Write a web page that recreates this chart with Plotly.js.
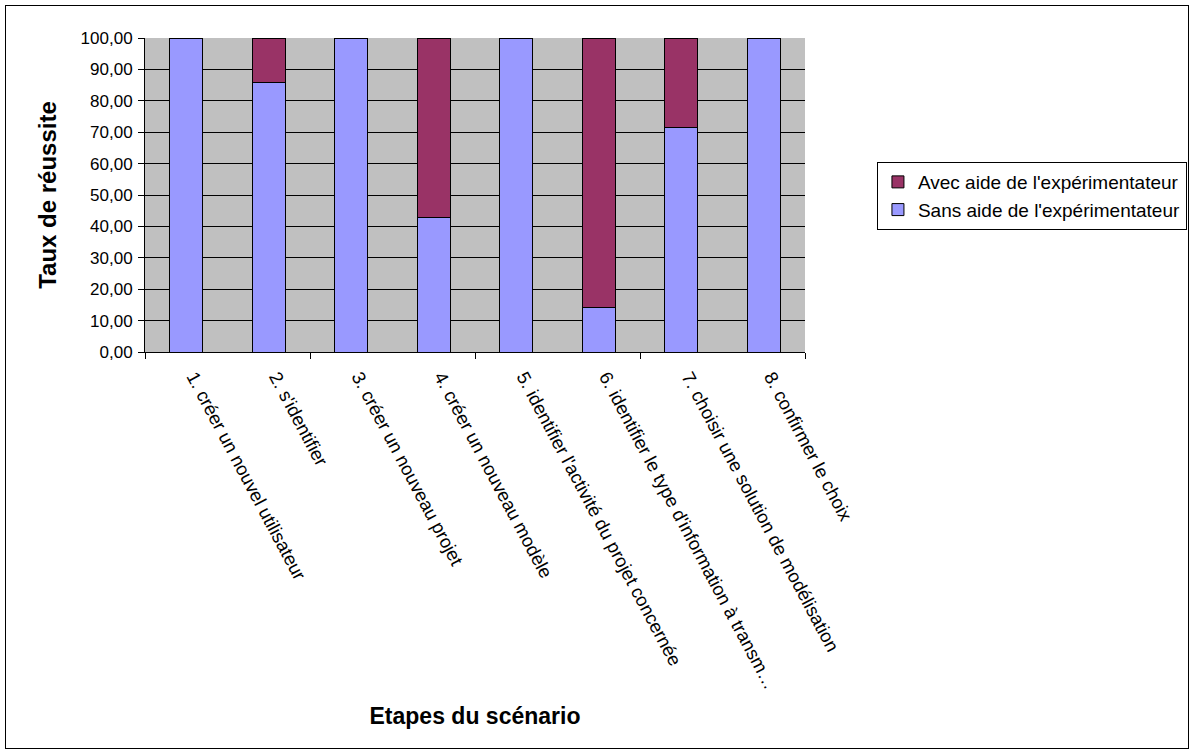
<!DOCTYPE html>
<html>
<head>
<meta charset="utf-8">
<script src="https://cdn.plot.ly/plotly-3.0.1.min.js"></script>
<style>
  html, body { margin: 0; padding: 0; background: #ffffff; }
  #wrap { position: relative; width: 1194px; height: 755px; }
  #chart { width: 1194px; height: 755px; }
  #frame { position: absolute; left: 5px; top: 5px; width: 1182px; height: 742px; border: 1px solid #000; pointer-events: none; }
</style>
</head>
<body>
<div id="wrap">
  <div id="chart"></div>
  <div id="frame"></div>
</div>
<script>
const categories = [
  "1. créer un nouvel utilisateur",
  "2. s'identifier",
  "3. créer un nouveau projet",
  "4. créer un nouveau modèle",
  "5. identifier l'activité du projet concernée",
  "6. identifier le type d'information à transm…",
  "7. choisir une solution de modélisation",
  "8. confirmer le choix"
];
const sansAide = [100, 85.71, 100, 42.86, 100, 14.29, 71.43, 100];
const avecAide = [0, 14.29, 0, 57.14, 0, 85.71, 28.57, 0];
const seriesNames = ["Sans aide de l'expérimentateur", "Avec aide de l'expérimentateur"];
const yTitle = "Taux de réussite";
const xTitle = "Etapes du scénario";

const FONT = "Liberation Sans, Arial, sans-serif";

const traces = [
  {
    type: "bar", name: seriesNames[0], x: categories, y: sansAide,
    marker: { color: "#9999FF", line: { color: "#000000", width: 1 } },
    width: 0.4
  },
  {
    type: "bar", name: seriesNames[1], x: categories, y: avecAide,
    marker: { color: "#993366", line: { color: "#000000", width: 1 } },
    width: 0.4
  },
  // empty helper trace so the tick-mark axis (every second category boundary) is drawn
  { type: "scatter", x: [], y: [], xaxis: "x2", yaxis: "y", showlegend: false, hoverinfo: "skip" }
];

const boundaryTicks = [];
for (let b = -0.5; b <= categories.length - 0.5; b += 2) boundaryTicks.push(b);

const layout = {
  width: 1194, height: 755,
  margin: { l: 145, r: 389, t: 38, b: 403, pad: 0, autoexpand: false },
  paper_bgcolor: "#ffffff",
  plot_bgcolor: "#C0C0C0",
  barmode: "stack",
  separators: ", ",
  font: { family: FONT, color: "#000000", size: 16 },
  showlegend: true,
  legend: {
    x: 1.109, y: 0.605, xanchor: "left", yanchor: "top",
    bordercolor: "#000000", borderwidth: 1, bgcolor: "#ffffff",
    traceorder: "reversed",
    font: { family: FONT, size: 19, color: "#000000" }
  },
  xaxis: {
    type: "category",
    range: [-0.5, categories.length - 0.5],
    tickangle: 62,
    ticks: "",
    ticklabelstandoff: 6,
    ticklabelshift: 8,
    showline: true, linecolor: "#000000", linewidth: 1,
    showgrid: false, zeroline: false,
    tickfont: { family: FONT, size: 18.5, color: "#000000" },
    title: { text: xTitle, font: { family: FONT, size: 23, color: "#000000", weight: "bold" }, standoff: 16 },
    automargin: false
  },
  xaxis2: {
    overlaying: "x", anchor: "y", side: "bottom",
    type: "linear",
    range: [-0.5, categories.length - 0.5],
    tickmode: "array", tickvals: boundaryTicks,
    ticks: "outside", ticklen: 6, tickcolor: "#000000", tickwidth: 1,
    showticklabels: false, showgrid: false, zeroline: false, showline: false
  },
  yaxis: {
    range: [0, 100], dtick: 10, tickformat: ".2f",
    ticks: "outside", ticklen: 6, tickcolor: "#000000", tickwidth: 1,
    ticklabelstandoff: 2,
    showline: true, linecolor: "#000000", linewidth: 1,
    showgrid: true, gridcolor: "#000000", gridwidth: 1,
    zeroline: false,
    tickfont: { family: FONT, size: 17, color: "#000000" },
    title: { text: yTitle, font: { family: FONT, size: 24, color: "#000000", weight: "bold" }, standoff: 17 },
    automargin: false
  }
};

Plotly.newPlot("chart", traces, layout, { staticPlot: true, displayModeBar: false });
</script>
</body>
</html>
